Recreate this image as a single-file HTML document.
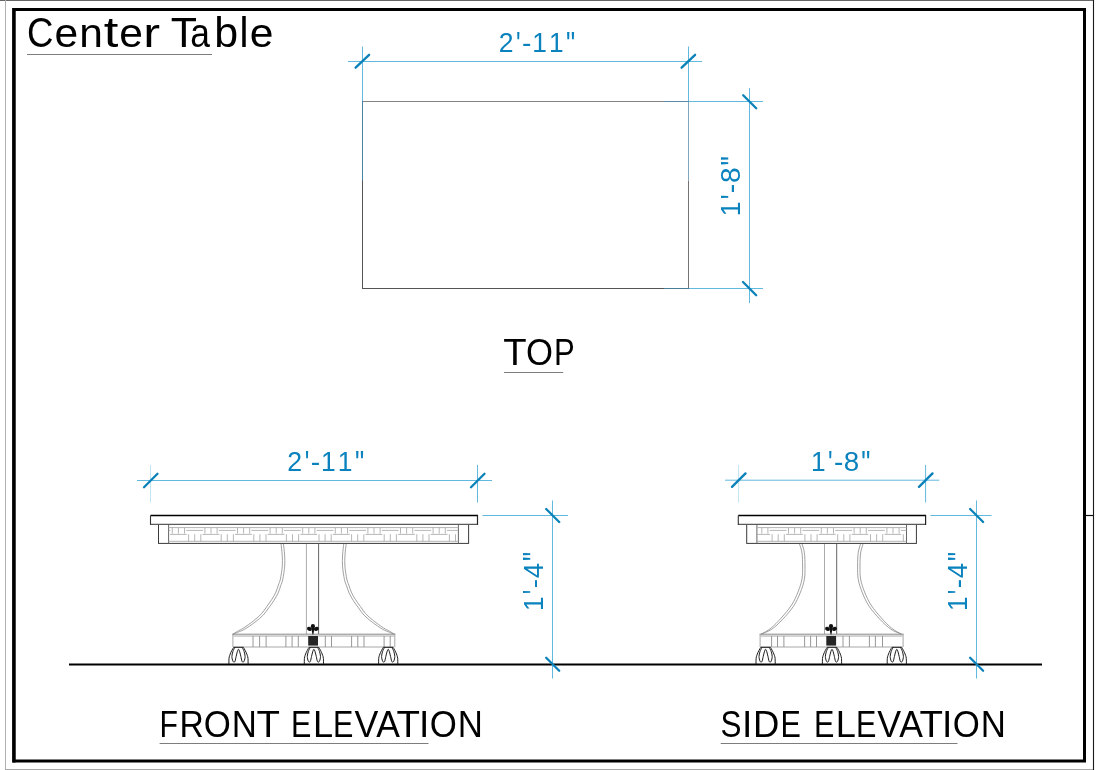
<!DOCTYPE html>
<html><head><meta charset="utf-8"><title>Center Table</title>
<style>
html,body{margin:0;padding:0;background:#fff;width:1100px;height:770px;overflow:hidden}
svg{display:block;will-change:transform}
text{font-family:"Liberation Sans",sans-serif}
.dl{stroke:#62b9df;stroke-width:1;fill:none}
.tk{stroke:#0a82b9;stroke-width:2.3;stroke-linecap:round}
.dt{fill:#0a82bd}
.lb{fill:#000}
.tt{fill:#000}
.ul{stroke:#7d7d7d;stroke-width:1}
.k{stroke:#111;fill:none}
.g{stroke:#999;fill:none;stroke-width:.8}
.p{stroke:#a4a4a4;stroke-width:.8}
.pl{stroke:#aaa;stroke-width:1}
.pd{stroke:#666;stroke-width:1}
.bl{stroke:#888;stroke-width:1}
.bl2{stroke:#9e9e9e;stroke-width:.9}
.bv{stroke:#8c8c8c;stroke-width:.9}
.ft{stroke:#111;stroke-width:.95;fill:none}
.cv{stroke:#8a8a8a;stroke-width:.8;fill:none}
.ap{fill:#fff;stroke:#3a3a3a;stroke-width:1}
.pn{stroke:#666;stroke-width:1}
.pi{stroke:#aaa;stroke-width:.9}
.tp{fill:#fff;stroke:#111;stroke-width:1.2}
</style></head>
<body>
<svg width="1100" height="770" viewBox="0 0 1100 770">
<rect width="1100" height="770" fill="#fff"/>
<!-- outer thin frame -->
<line x1="0" y1="0.5" x2="1094" y2="0.5" stroke="#666" stroke-width="1"/>
<line x1="5.5" y1="0" x2="5.5" y2="770" stroke="#b0b0b0" stroke-width="1"/>
<line x1="5" y1="769.5" x2="1094" y2="769.5" stroke="#a8a8a8" stroke-width="1"/>
<line x1="1093.5" y1="0" x2="1093.5" y2="770" stroke="#1a1a1a" stroke-width="1.1"/>
<line x1="1085" y1="515.5" x2="1093.5" y2="515.5" stroke="#111" stroke-width="1.2"/>
<!-- thick frame -->
<path d="M13.9,9.5 H1084.5 V761 H13.9 Z" fill="none" stroke="#000" stroke-width="3"/>
<line x1="13.9" y1="8" x2="13.9" y2="762.5" stroke="#000" stroke-width="3.3"/>
<!-- title -->
<line class="ul" x1="27" y1="54.5" x2="212" y2="54.5"/>

<!-- ===== TOP VIEW ===== -->
<line x1="362.5" y1="101" x2="362.5" y2="289" stroke="#555" stroke-width="1"/>
<line x1="362" y1="288.5" x2="664" y2="288.5" stroke="#555" stroke-width="1"/>
<line x1="688.5" y1="180.5" x2="688.5" y2="289" stroke="#747474" stroke-width="1"/>
<line x1="362" y1="101.5" x2="664" y2="101.5" stroke="#848484" stroke-width="1"/>
<line x1="362.5" y1="101" x2="362.5" y2="180.5" stroke="#4a82a6" stroke-width="1"/>
<line x1="688.5" y1="101" x2="688.5" y2="180.5" stroke="#7fa7bd" stroke-width="1"/>
<line x1="664" y1="101.5" x2="689" y2="101.5" stroke="#5d8ca8" stroke-width="1"/>
<line x1="664" y1="288.5" x2="689" y2="288.5" stroke="#4a7e98" stroke-width="1"/>
<line class="dl" x1="348" y1="61.5" x2="702" y2="61.5"/>
<line class="dl" x1="362.5" y1="46.5" x2="362.5" y2="101"/>
<line class="dl" x1="688.5" y1="46.5" x2="688.5" y2="101"/>
<line class="tk" x1="355.6" y1="67.7" x2="369.1" y2="54.8"/>
<line class="tk" x1="681.6" y1="67.7" x2="695.1" y2="54.8"/>

<line class="dl" x1="749.5" y1="88" x2="749.5" y2="303"/>
<line class="dl" x1="689" y1="101.5" x2="763" y2="101.5"/>
<line class="dl" x1="689" y1="288.5" x2="763" y2="288.5"/>
<line class="tk" x1="743.2" y1="95.2" x2="756.2" y2="108.2"/>
<line class="tk" x1="743" y1="282" x2="756.2" y2="295.2"/>

<line class="ul" x1="504" y1="372.5" x2="563.2" y2="372.5"/>

<!-- floor -->
<line x1="69" y1="664.5" x2="1042" y2="664.5" stroke="#000" stroke-width="1.8"/>

<!-- ===== FRONT ELEVATION ===== -->
<line class="dl" x1="137" y1="480.5" x2="492" y2="480.5"/>
<line class="dl" x1="150.5" y1="465" x2="150.5" y2="502.5" style="stroke:#c2e4f3"/>
<line class="dl" x1="477.5" y1="465" x2="477.5" y2="502.5"/>
<line class="tk" x1="144" y1="487.2" x2="157.5" y2="473.7"/>
<line class="tk" x1="471" y1="487.2" x2="484.5" y2="473.7"/>

<line class="dl" x1="552.5" y1="500.5" x2="552.5" y2="678.5"/>
<line class="dl" x1="482.5" y1="515.5" x2="568" y2="515.5"/>
<line class="tk" x1="546.2" y1="509" x2="559.2" y2="522"/>
<line class="tk" x1="546.2" y1="657.8" x2="559.2" y2="670.8"/>

<g id="front">
<path class="cv" d="M281,543.6 C281.2,545.5 281.98,551.27 282.2,555 C282.42,558.73 282.6,562 282.3,566 C282,570 281.05,575.83 280.4,579 C279.75,582.17 279.15,582.82 278.4,585 C277.65,587.18 276.98,589.72 275.9,592.1 C274.82,594.48 273.4,596.92 271.9,599.3 C270.4,601.68 268.62,604.02 266.9,606.4 C265.18,608.78 263.8,611.22 261.6,613.6 C259.4,615.98 256.68,618.32 253.7,620.7 C250.72,623.08 246.43,626.12 243.7,627.9 C240.97,629.68 239.15,630.33 237.3,631.4 C235.45,632.47 233.38,633.82 232.6,634.3"/>
<path class="cv" d="M283.39,543.35 C283.59,545.27 284.38,551.06 284.6,554.86 C284.81,558.67 285,562.08 284.69,566.18 C284.39,570.28 283.42,576.22 282.75,579.48 C282.08,582.75 281.45,583.51 280.67,585.78 C279.89,588.05 279.2,590.62 278.07,593.09 C276.95,595.55 275.45,598.12 273.9,600.56 C272.35,603 270.55,605.33 268.77,607.75 C266.99,610.17 265.52,612.67 263.21,615.08 C260.9,617.5 258.04,619.88 254.93,622.24 C251.83,624.6 247.43,627.57 244.57,629.24 C241.71,630.9 239.78,631.4 237.79,632.25 C235.79,633.09 233.46,633.96 232.6,634.3"/>
<path class="cv" d="M346.2,543.6 C346,545.5 345.22,551.27 345,555 C344.78,558.73 344.6,562 344.9,566 C345.2,570 346.15,575.83 346.8,579 C347.45,582.17 348.05,582.82 348.8,585 C349.55,587.18 350.22,589.72 351.3,592.1 C352.38,594.48 353.8,596.92 355.3,599.3 C356.8,601.68 358.58,604.02 360.3,606.4 C362.02,608.78 363.4,611.22 365.6,613.6 C367.8,615.98 370.52,618.32 373.5,620.7 C376.48,623.08 380.77,626.12 383.5,627.9 C386.23,629.68 388.05,630.33 389.9,631.4 C391.75,632.47 393.82,633.82 394.6,634.3"/>
<path class="cv" d="M343.81,543.35 C343.61,545.27 342.82,551.06 342.6,554.86 C342.39,558.67 342.2,562.08 342.51,566.18 C342.81,570.28 343.78,576.22 344.45,579.48 C345.12,582.75 345.75,583.51 346.53,585.78 C347.31,588.05 348,590.62 349.13,593.09 C350.25,595.55 351.75,598.12 353.3,600.56 C354.85,603 356.65,605.33 358.43,607.75 C360.21,610.17 361.68,612.67 363.99,615.08 C366.3,617.5 369.16,619.88 372.27,622.24 C375.37,624.6 379.77,627.57 382.63,629.24 C385.49,630.9 387.42,631.4 389.41,632.25 C391.41,633.09 393.74,633.96 394.6,634.3"/>
<line class="pl" x1="306.4" y1="543.8" x2="306.4" y2="634" />
<line class="pd" x1="318.6" y1="543.8" x2="318.6" y2="634" />
<line class="bl" x1="232.4" y1="634.2" x2="395.3" y2="634.2" />
<line class="bl2" x1="233.4" y1="636" x2="394.3" y2="636" />
<line class="bl2" x1="233.4" y1="647" x2="394.3" y2="647" />
<line class="bl2" x1="232.9" y1="634.2" x2="232.9" y2="647" />
<line class="bl2" x1="394.8" y1="634.2" x2="394.8" y2="647" />
<line class="bv" x1="253" y1="636" x2="253" y2="647" />
<line class="bv" x1="259.6" y1="636" x2="259.6" y2="647" />
<line class="bv" x1="266.1" y1="636" x2="266.1" y2="647" />
<line class="bv" x1="285.9" y1="636" x2="285.9" y2="647" />
<line class="bv" x1="292.1" y1="636" x2="292.1" y2="647" />
<line class="bv" x1="298.3" y1="636" x2="298.3" y2="647" />
<line class="bv" x1="325.3" y1="636" x2="325.3" y2="647" />
<line class="bv" x1="331.5" y1="636" x2="331.5" y2="647" />
<line class="bv" x1="351.6" y1="636" x2="351.6" y2="647" />
<line class="bv" x1="357.8" y1="636" x2="357.8" y2="647" />
<line class="bv" x1="364" y1="636" x2="364" y2="647" />
<line class="bv" x1="384.1" y1="636" x2="384.1" y2="647" />
<line class="bv" x1="390.2" y1="636" x2="390.2" y2="647" />
<path class="ft" d="M228.9,664.5 C228.92,663.5 228.87,660.02 229,658.5 C229.13,656.98 229.4,656.38 229.7,655.4 C230,654.42 230.43,653.43 230.8,652.6 C231.17,651.77 231.55,651.08 231.9,650.4 C232.25,649.72 232.6,649.02 232.9,648.5 C233.2,647.98 233.57,647.5 233.7,647.3 L243.3,647.3 L243.3,647.3 C243.43,647.5 243.8,647.98 244.1,648.5 C244.4,649.02 244.75,649.72 245.1,650.4 C245.45,651.08 245.83,651.77 246.2,652.6 C246.57,653.43 247,654.42 247.3,655.4 C247.6,656.38 247.87,656.98 248,658.5 C248.13,660.02 248.08,663.5 248.1,664.5"/>
<path class="ft" d="M234.7,647.6 C234.4,648.25 233.37,650.02 232.9,651.5 C232.43,652.98 231.92,654.93 231.9,656.5 C231.88,658.07 232.45,659.97 232.8,660.9 C233.15,661.83 233.62,662.08 234,662.1 C234.38,662.12 234.75,661.92 235.1,661 C235.45,660.08 235.73,658.13 236.1,656.6 C236.47,655.07 236.9,653.02 237.3,651.8 C237.7,650.58 238.1,649.3 238.5,649.3 C238.9,649.3 239.3,650.58 239.7,651.8 C240.1,653.02 240.53,655.07 240.9,656.6 C241.27,658.13 241.55,660.08 241.9,661 C242.25,661.92 242.62,662.12 243,662.1 C243.38,662.08 243.85,661.83 244.2,660.9 C244.55,659.97 245.12,658.07 245.1,656.5 C245.08,654.93 244.57,652.98 244.1,651.5 C243.63,650.02 242.6,648.25 242.3,647.6"/>
<path class="ft" d="M304.3,664.5 C304.32,663.5 304.27,660.02 304.4,658.5 C304.53,656.98 304.8,656.38 305.1,655.4 C305.4,654.42 305.83,653.43 306.2,652.6 C306.57,651.77 306.95,651.08 307.3,650.4 C307.65,649.72 308,649.02 308.3,648.5 C308.6,647.98 308.97,647.5 309.1,647.3 L318.7,647.3 L318.7,647.3 C318.83,647.5 319.2,647.98 319.5,648.5 C319.8,649.02 320.15,649.72 320.5,650.4 C320.85,651.08 321.23,651.77 321.6,652.6 C321.97,653.43 322.4,654.42 322.7,655.4 C323,656.38 323.27,656.98 323.4,658.5 C323.53,660.02 323.48,663.5 323.5,664.5"/>
<path class="ft" d="M310.1,647.6 C309.8,648.25 308.77,650.02 308.3,651.5 C307.83,652.98 307.32,654.93 307.3,656.5 C307.28,658.07 307.85,659.97 308.2,660.9 C308.55,661.83 309.02,662.08 309.4,662.1 C309.78,662.12 310.15,661.92 310.5,661 C310.85,660.08 311.13,658.13 311.5,656.6 C311.87,655.07 312.3,653.02 312.7,651.8 C313.1,650.58 313.5,649.3 313.9,649.3 C314.3,649.3 314.7,650.58 315.1,651.8 C315.5,653.02 315.93,655.07 316.3,656.6 C316.67,658.13 316.95,660.08 317.3,661 C317.65,661.92 318.02,662.12 318.4,662.1 C318.78,662.08 319.25,661.83 319.6,660.9 C319.95,659.97 320.52,658.07 320.5,656.5 C320.48,654.93 319.97,652.98 319.5,651.5 C319.03,650.02 318,648.25 317.7,647.6"/>
<path class="ft" d="M378.6,664.5 C378.62,663.5 378.57,660.02 378.7,658.5 C378.83,656.98 379.1,656.38 379.4,655.4 C379.7,654.42 380.13,653.43 380.5,652.6 C380.87,651.77 381.25,651.08 381.6,650.4 C381.95,649.72 382.3,649.02 382.6,648.5 C382.9,647.98 383.27,647.5 383.4,647.3 L393,647.3 L393,647.3 C393.13,647.5 393.5,647.98 393.8,648.5 C394.1,649.02 394.45,649.72 394.8,650.4 C395.15,651.08 395.53,651.77 395.9,652.6 C396.27,653.43 396.7,654.42 397,655.4 C397.3,656.38 397.57,656.98 397.7,658.5 C397.83,660.02 397.78,663.5 397.8,664.5"/>
<path class="ft" d="M384.4,647.6 C384.1,648.25 383.07,650.02 382.6,651.5 C382.13,652.98 381.62,654.93 381.6,656.5 C381.58,658.07 382.15,659.97 382.5,660.9 C382.85,661.83 383.32,662.08 383.7,662.1 C384.08,662.12 384.45,661.92 384.8,661 C385.15,660.08 385.43,658.13 385.8,656.6 C386.17,655.07 386.6,653.02 387,651.8 C387.4,650.58 387.8,649.3 388.2,649.3 C388.6,649.3 389,650.58 389.4,651.8 C389.8,653.02 390.23,655.07 390.6,656.6 C390.97,658.13 391.25,660.08 391.6,661 C391.95,661.92 392.32,662.12 392.7,662.1 C393.08,662.08 393.55,661.83 393.9,660.9 C394.25,659.97 394.82,658.07 394.8,656.5 C394.78,654.93 394.27,652.98 393.8,651.5 C393.33,650.02 392.3,648.25 392,647.6"/>
<circle cx="312.9" cy="626.2" r="2.1" fill="#111"/>
<ellipse cx="309.4" cy="628.9" rx="2.5" ry="2.0" fill="#111" transform="rotate(20 309.4 628.9)"/>
<ellipse cx="316.4" cy="628.9" rx="2.5" ry="2.0" fill="#111" transform="rotate(-20 316.4 628.9)"/>
<path d="M311.1,627.5 L314.7,627.5 L313.3,634.4 L312.5,634.4 Z" fill="#111"/>
<rect x="308.2" y="636" width="9.8" height="9.6" fill="#262626"/>
<rect x="158.5" y="524.4" width="310.1" height="19" class="ap"/>
<line class="pn" x1="168.6" y1="524.4" x2="168.6" y2="543.4" />
<line class="pn" x1="458.4" y1="524.4" x2="458.4" y2="543.4" />
<line class="pi" x1="168.6" y1="527.6" x2="458.4" y2="527.6" />
<line class="pi" x1="168.6" y1="541.3" x2="458.4" y2="541.3" />
<line class="p" x1="168.6" y1="530.4" x2="170.4" y2="530.4" />
<line class="p" x1="169.9" y1="534.4" x2="186.7" y2="534.4" />
<line class="p" x1="172.3" y1="527.6" x2="172.3" y2="533.6" />
<line class="p" x1="178.4" y1="527.6" x2="178.4" y2="533.6" />
<line class="p" x1="184.5" y1="527.6" x2="184.5" y2="533.6" />
<line class="p" x1="186.2" y1="530.4" x2="203" y2="530.4" />
<line class="p" x1="188.6" y1="534.2" x2="188.6" y2="541.3" />
<line class="p" x1="194.7" y1="534.2" x2="194.7" y2="541.3" />
<line class="p" x1="200.8" y1="534.2" x2="200.8" y2="541.3" />
<line class="p" x1="202.5" y1="534.4" x2="219.3" y2="534.4" />
<line class="p" x1="204.9" y1="527.6" x2="204.9" y2="533.6" />
<line class="p" x1="211" y1="527.6" x2="211" y2="533.6" />
<line class="p" x1="217.1" y1="527.6" x2="217.1" y2="533.6" />
<line class="p" x1="218.8" y1="530.4" x2="235.6" y2="530.4" />
<line class="p" x1="221.2" y1="534.2" x2="221.2" y2="541.3" />
<line class="p" x1="227.3" y1="534.2" x2="227.3" y2="541.3" />
<line class="p" x1="233.4" y1="534.2" x2="233.4" y2="541.3" />
<line class="p" x1="235.1" y1="534.4" x2="251.9" y2="534.4" />
<line class="p" x1="237.5" y1="527.6" x2="237.5" y2="533.6" />
<line class="p" x1="243.6" y1="527.6" x2="243.6" y2="533.6" />
<line class="p" x1="249.7" y1="527.6" x2="249.7" y2="533.6" />
<line class="p" x1="251.4" y1="530.4" x2="268.2" y2="530.4" />
<line class="p" x1="253.8" y1="534.2" x2="253.8" y2="541.3" />
<line class="p" x1="259.9" y1="534.2" x2="259.9" y2="541.3" />
<line class="p" x1="266" y1="534.2" x2="266" y2="541.3" />
<line class="p" x1="267.7" y1="534.4" x2="284.5" y2="534.4" />
<line class="p" x1="270.1" y1="527.6" x2="270.1" y2="533.6" />
<line class="p" x1="276.2" y1="527.6" x2="276.2" y2="533.6" />
<line class="p" x1="282.3" y1="527.6" x2="282.3" y2="533.6" />
<line class="p" x1="284" y1="530.4" x2="300.8" y2="530.4" />
<line class="p" x1="286.4" y1="534.2" x2="286.4" y2="541.3" />
<line class="p" x1="292.5" y1="534.2" x2="292.5" y2="541.3" />
<line class="p" x1="298.6" y1="534.2" x2="298.6" y2="541.3" />
<line class="p" x1="300.3" y1="534.4" x2="317.1" y2="534.4" />
<line class="p" x1="302.7" y1="527.6" x2="302.7" y2="533.6" />
<line class="p" x1="308.8" y1="527.6" x2="308.8" y2="533.6" />
<line class="p" x1="314.9" y1="527.6" x2="314.9" y2="533.6" />
<line class="p" x1="316.6" y1="530.4" x2="333.4" y2="530.4" />
<line class="p" x1="319" y1="534.2" x2="319" y2="541.3" />
<line class="p" x1="325.1" y1="534.2" x2="325.1" y2="541.3" />
<line class="p" x1="331.2" y1="534.2" x2="331.2" y2="541.3" />
<line class="p" x1="332.9" y1="534.4" x2="349.7" y2="534.4" />
<line class="p" x1="335.3" y1="527.6" x2="335.3" y2="533.6" />
<line class="p" x1="341.4" y1="527.6" x2="341.4" y2="533.6" />
<line class="p" x1="347.5" y1="527.6" x2="347.5" y2="533.6" />
<line class="p" x1="349.2" y1="530.4" x2="366" y2="530.4" />
<line class="p" x1="351.6" y1="534.2" x2="351.6" y2="541.3" />
<line class="p" x1="357.7" y1="534.2" x2="357.7" y2="541.3" />
<line class="p" x1="363.8" y1="534.2" x2="363.8" y2="541.3" />
<line class="p" x1="365.5" y1="534.4" x2="382.3" y2="534.4" />
<line class="p" x1="367.9" y1="527.6" x2="367.9" y2="533.6" />
<line class="p" x1="374" y1="527.6" x2="374" y2="533.6" />
<line class="p" x1="380.1" y1="527.6" x2="380.1" y2="533.6" />
<line class="p" x1="381.8" y1="530.4" x2="398.6" y2="530.4" />
<line class="p" x1="384.2" y1="534.2" x2="384.2" y2="541.3" />
<line class="p" x1="390.3" y1="534.2" x2="390.3" y2="541.3" />
<line class="p" x1="396.4" y1="534.2" x2="396.4" y2="541.3" />
<line class="p" x1="398.1" y1="534.4" x2="414.9" y2="534.4" />
<line class="p" x1="400.5" y1="527.6" x2="400.5" y2="533.6" />
<line class="p" x1="406.6" y1="527.6" x2="406.6" y2="533.6" />
<line class="p" x1="412.7" y1="527.6" x2="412.7" y2="533.6" />
<line class="p" x1="414.4" y1="530.4" x2="431.2" y2="530.4" />
<line class="p" x1="416.8" y1="534.2" x2="416.8" y2="541.3" />
<line class="p" x1="422.9" y1="534.2" x2="422.9" y2="541.3" />
<line class="p" x1="429" y1="534.2" x2="429" y2="541.3" />
<line class="p" x1="430.7" y1="534.4" x2="447.5" y2="534.4" />
<line class="p" x1="433.1" y1="527.6" x2="433.1" y2="533.6" />
<line class="p" x1="439.2" y1="527.6" x2="439.2" y2="533.6" />
<line class="p" x1="445.3" y1="527.6" x2="445.3" y2="533.6" />
<line class="p" x1="447" y1="530.4" x2="458.4" y2="530.4" />
<line class="p" x1="449.4" y1="534.2" x2="449.4" y2="541.3" />
<line class="p" x1="455.5" y1="534.2" x2="455.5" y2="541.3" />
<rect x="150.5" y="515.6" width="327" height="8.8" fill="#fff"/>
<line x1="150.5" y1="515.5" x2="478" y2="515.5" stroke="#000" stroke-width="1.35"/>
<line x1="150.5" y1="524.4" x2="477.5" y2="524.4" stroke="#5a5a5a" stroke-width="1.1"/>
<line x1="150.5" y1="515.5" x2="150.5" y2="524.9" stroke="#333" stroke-width="1.1"/>
<line x1="477.5" y1="515.5" x2="477.5" y2="524.9" stroke="#222" stroke-width="1.2"/>
</g>

<line class="ul" x1="159.6" y1="743.5" x2="428.5" y2="743.5"/>

<!-- ===== SIDE ELEVATION ===== -->
<line class="dl" x1="725" y1="480.2" x2="939.3" y2="480.2"/>
<line class="dl" x1="738.6" y1="465" x2="738.6" y2="502.5" style="stroke:#c2e4f3"/>
<line class="dl" x1="925.6" y1="465" x2="925.6" y2="502.5"/>
<line class="tk" x1="732" y1="486.9" x2="745.5" y2="473.4"/>
<line class="tk" x1="919" y1="486.9" x2="932.5" y2="473.4"/>

<line class="dl" x1="976.5" y1="500.5" x2="976.5" y2="678.5"/>
<line class="dl" x1="930.4" y1="515.5" x2="991.5" y2="515.5"/>
<line class="tk" x1="970.1" y1="509" x2="983.1" y2="522"/>
<line class="tk" x1="970.1" y1="657.8" x2="983.1" y2="670.8"/>

<g id="side">
<path class="cv" d="M799.4,543.6 C799.83,545.17 801.47,549.27 802,553 C802.53,556.73 802.6,561.67 802.6,566 C802.6,570.33 802.77,574.67 802,579 C801.23,583.33 799.73,587.67 798,592 C796.27,596.33 794.4,600.67 791.6,605 C788.8,609.33 784.67,614.12 781.2,618 C777.73,621.88 774.17,625.6 770.8,628.3 C767.43,631 762.63,633.22 761,634.2"/>
<path class="cv" d="M801.71,542.96 C802.16,544.58 803.83,548.82 804.38,552.66 C804.92,556.5 805,561.54 805,566 C805,570.46 805.16,574.94 804.36,579.42 C803.56,583.9 802,588.41 800.19,592.88 C798.38,597.35 796.42,601.82 793.5,606.22 C790.58,610.63 786.32,615.46 782.67,619.31 C779.03,623.17 775.24,626.85 771.63,629.33 C768.02,631.81 762.77,633.39 761,634.2"/>
<path class="cv" d="M863.2,543.6 C862.77,545.17 861.13,549.27 860.6,553 C860.07,556.73 860,561.67 860,566 C860,570.33 859.83,574.67 860.6,579 C861.37,583.33 862.87,587.67 864.6,592 C866.33,596.33 868.2,600.67 871,605 C873.8,609.33 877.93,614.12 881.4,618 C884.87,621.88 888.43,625.6 891.8,628.3 C895.17,631 899.97,633.22 901.6,634.2"/>
<path class="cv" d="M860.89,542.96 C860.44,544.58 858.77,548.82 858.22,552.66 C857.68,556.5 857.6,561.54 857.6,566 C857.6,570.46 857.44,574.94 858.24,579.42 C859.04,583.9 860.6,588.41 862.41,592.88 C864.22,597.35 866.18,601.82 869.1,606.22 C872.02,610.63 876.28,615.46 879.93,619.31 C883.57,623.17 887.36,626.85 890.97,629.33 C894.58,631.81 899.83,633.39 901.6,634.2"/>
<line class="pl" x1="824.5" y1="543.8" x2="824.5" y2="634" />
<line class="pd" x1="836.7" y1="543.8" x2="836.7" y2="634" />
<line class="bl" x1="759.6" y1="634.2" x2="903.6" y2="634.2" />
<line class="bl2" x1="760.6" y1="636" x2="902.6" y2="636" />
<line class="bl2" x1="760.6" y1="647" x2="902.6" y2="647" />
<line class="bl2" x1="760.1" y1="634.2" x2="760.1" y2="647" />
<line class="bl2" x1="903.1" y1="634.2" x2="903.1" y2="647" />
<line class="bv" x1="771.6" y1="636" x2="771.6" y2="647" />
<line class="bv" x1="777.5" y1="636" x2="777.5" y2="647" />
<line class="bv" x1="783.9" y1="636" x2="783.9" y2="647" />
<line class="bv" x1="804.6" y1="636" x2="804.6" y2="647" />
<line class="bv" x1="810.6" y1="636" x2="810.6" y2="647" />
<line class="bv" x1="816.5" y1="636" x2="816.5" y2="647" />
<line class="bv" x1="843" y1="636" x2="843" y2="647" />
<line class="bv" x1="849.4" y1="636" x2="849.4" y2="647" />
<line class="bv" x1="869.4" y1="636" x2="869.4" y2="647" />
<line class="bv" x1="875.4" y1="636" x2="875.4" y2="647" />
<line class="bv" x1="882.5" y1="636" x2="882.5" y2="647" />
<path class="ft" d="M756,664.5 C756.02,663.5 755.97,660.02 756.1,658.5 C756.23,656.98 756.5,656.38 756.8,655.4 C757.1,654.42 757.53,653.43 757.9,652.6 C758.27,651.77 758.65,651.08 759,650.4 C759.35,649.72 759.7,649.02 760,648.5 C760.3,647.98 760.67,647.5 760.8,647.3 L770.4,647.3 L770.4,647.3 C770.53,647.5 770.9,647.98 771.2,648.5 C771.5,649.02 771.85,649.72 772.2,650.4 C772.55,651.08 772.93,651.77 773.3,652.6 C773.67,653.43 774.1,654.42 774.4,655.4 C774.7,656.38 774.97,656.98 775.1,658.5 C775.23,660.02 775.18,663.5 775.2,664.5"/>
<path class="ft" d="M761.8,647.6 C761.5,648.25 760.47,650.02 760,651.5 C759.53,652.98 759.02,654.93 759,656.5 C758.98,658.07 759.55,659.97 759.9,660.9 C760.25,661.83 760.72,662.08 761.1,662.1 C761.48,662.12 761.85,661.92 762.2,661 C762.55,660.08 762.83,658.13 763.2,656.6 C763.57,655.07 764,653.02 764.4,651.8 C764.8,650.58 765.2,649.3 765.6,649.3 C766,649.3 766.4,650.58 766.8,651.8 C767.2,653.02 767.63,655.07 768,656.6 C768.37,658.13 768.65,660.08 769,661 C769.35,661.92 769.72,662.12 770.1,662.1 C770.48,662.08 770.95,661.83 771.3,660.9 C771.65,659.97 772.22,658.07 772.2,656.5 C772.18,654.93 771.67,652.98 771.2,651.5 C770.73,650.02 769.7,648.25 769.4,647.6"/>
<path class="ft" d="M822.4,664.5 C822.42,663.5 822.37,660.02 822.5,658.5 C822.63,656.98 822.9,656.38 823.2,655.4 C823.5,654.42 823.93,653.43 824.3,652.6 C824.67,651.77 825.05,651.08 825.4,650.4 C825.75,649.72 826.1,649.02 826.4,648.5 C826.7,647.98 827.07,647.5 827.2,647.3 L836.8,647.3 L836.8,647.3 C836.93,647.5 837.3,647.98 837.6,648.5 C837.9,649.02 838.25,649.72 838.6,650.4 C838.95,651.08 839.33,651.77 839.7,652.6 C840.07,653.43 840.5,654.42 840.8,655.4 C841.1,656.38 841.37,656.98 841.5,658.5 C841.63,660.02 841.58,663.5 841.6,664.5"/>
<path class="ft" d="M828.2,647.6 C827.9,648.25 826.87,650.02 826.4,651.5 C825.93,652.98 825.42,654.93 825.4,656.5 C825.38,658.07 825.95,659.97 826.3,660.9 C826.65,661.83 827.12,662.08 827.5,662.1 C827.88,662.12 828.25,661.92 828.6,661 C828.95,660.08 829.23,658.13 829.6,656.6 C829.97,655.07 830.4,653.02 830.8,651.8 C831.2,650.58 831.6,649.3 832,649.3 C832.4,649.3 832.8,650.58 833.2,651.8 C833.6,653.02 834.03,655.07 834.4,656.6 C834.77,658.13 835.05,660.08 835.4,661 C835.75,661.92 836.12,662.12 836.5,662.1 C836.88,662.08 837.35,661.83 837.7,660.9 C838.05,659.97 838.62,658.07 838.6,656.5 C838.58,654.93 838.07,652.98 837.6,651.5 C837.13,650.02 836.1,648.25 835.8,647.6"/>
<path class="ft" d="M887.2,664.5 C887.22,663.5 887.17,660.02 887.3,658.5 C887.43,656.98 887.7,656.38 888,655.4 C888.3,654.42 888.73,653.43 889.1,652.6 C889.47,651.77 889.85,651.08 890.2,650.4 C890.55,649.72 890.9,649.02 891.2,648.5 C891.5,647.98 891.87,647.5 892,647.3 L901.6,647.3 L901.6,647.3 C901.73,647.5 902.1,647.98 902.4,648.5 C902.7,649.02 903.05,649.72 903.4,650.4 C903.75,651.08 904.13,651.77 904.5,652.6 C904.87,653.43 905.3,654.42 905.6,655.4 C905.9,656.38 906.17,656.98 906.3,658.5 C906.43,660.02 906.38,663.5 906.4,664.5"/>
<path class="ft" d="M893,647.6 C892.7,648.25 891.67,650.02 891.2,651.5 C890.73,652.98 890.22,654.93 890.2,656.5 C890.18,658.07 890.75,659.97 891.1,660.9 C891.45,661.83 891.92,662.08 892.3,662.1 C892.68,662.12 893.05,661.92 893.4,661 C893.75,660.08 894.03,658.13 894.4,656.6 C894.77,655.07 895.2,653.02 895.6,651.8 C896,650.58 896.4,649.3 896.8,649.3 C897.2,649.3 897.6,650.58 898,651.8 C898.4,653.02 898.83,655.07 899.2,656.6 C899.57,658.13 899.85,660.08 900.2,661 C900.55,661.92 900.92,662.12 901.3,662.1 C901.68,662.08 902.15,661.83 902.5,660.9 C902.85,659.97 903.42,658.07 903.4,656.5 C903.38,654.93 902.87,652.98 902.4,651.5 C901.93,650.02 900.9,648.25 900.6,647.6"/>
<circle cx="831" cy="626.2" r="2.1" fill="#111"/>
<ellipse cx="827.5" cy="628.9" rx="2.5" ry="2.0" fill="#111" transform="rotate(20 827.5 628.9)"/>
<ellipse cx="834.5" cy="628.9" rx="2.5" ry="2.0" fill="#111" transform="rotate(-20 834.5 628.9)"/>
<path d="M829.2,627.5 L832.8,627.5 L831.4,634.4 L830.6,634.4 Z" fill="#111"/>
<rect x="826.3" y="636" width="9.8" height="9.6" fill="#262626"/>
<rect x="746.7" y="524.4" width="169.7" height="19" class="ap"/>
<line class="pn" x1="756.9" y1="524.4" x2="756.9" y2="543.4" />
<line class="pn" x1="906.5" y1="524.4" x2="906.5" y2="543.4" />
<line class="pi" x1="756.9" y1="527.6" x2="906.5" y2="527.6" />
<line class="pi" x1="756.9" y1="541.3" x2="906.5" y2="541.3" />
<line class="p" x1="756.9" y1="534.4" x2="770" y2="534.4" />
<line class="p" x1="761.8" y1="527.6" x2="761.8" y2="533.6" />
<line class="p" x1="767.9" y1="527.6" x2="767.9" y2="533.6" />
<line class="p" x1="769.6" y1="530.4" x2="786.4" y2="530.4" />
<line class="p" x1="772.1" y1="534.2" x2="772.1" y2="541.3" />
<line class="p" x1="778.2" y1="534.2" x2="778.2" y2="541.3" />
<line class="p" x1="784.3" y1="534.2" x2="784.3" y2="541.3" />
<line class="p" x1="786" y1="534.4" x2="802.8" y2="534.4" />
<line class="p" x1="788.5" y1="527.6" x2="788.5" y2="533.6" />
<line class="p" x1="794.6" y1="527.6" x2="794.6" y2="533.6" />
<line class="p" x1="800.7" y1="527.6" x2="800.7" y2="533.6" />
<line class="p" x1="802.4" y1="530.4" x2="819.2" y2="530.4" />
<line class="p" x1="804.9" y1="534.2" x2="804.9" y2="541.3" />
<line class="p" x1="811" y1="534.2" x2="811" y2="541.3" />
<line class="p" x1="817.1" y1="534.2" x2="817.1" y2="541.3" />
<line class="p" x1="818.8" y1="534.4" x2="835.6" y2="534.4" />
<line class="p" x1="821.3" y1="527.6" x2="821.3" y2="533.6" />
<line class="p" x1="827.4" y1="527.6" x2="827.4" y2="533.6" />
<line class="p" x1="833.5" y1="527.6" x2="833.5" y2="533.6" />
<line class="p" x1="835.2" y1="530.4" x2="852" y2="530.4" />
<line class="p" x1="837.7" y1="534.2" x2="837.7" y2="541.3" />
<line class="p" x1="843.8" y1="534.2" x2="843.8" y2="541.3" />
<line class="p" x1="849.9" y1="534.2" x2="849.9" y2="541.3" />
<line class="p" x1="851.6" y1="534.4" x2="868.4" y2="534.4" />
<line class="p" x1="854.1" y1="527.6" x2="854.1" y2="533.6" />
<line class="p" x1="860.2" y1="527.6" x2="860.2" y2="533.6" />
<line class="p" x1="866.3" y1="527.6" x2="866.3" y2="533.6" />
<line class="p" x1="868" y1="530.4" x2="884.8" y2="530.4" />
<line class="p" x1="870.5" y1="534.2" x2="870.5" y2="541.3" />
<line class="p" x1="876.6" y1="534.2" x2="876.6" y2="541.3" />
<line class="p" x1="882.7" y1="534.2" x2="882.7" y2="541.3" />
<line class="p" x1="884.4" y1="534.4" x2="901.2" y2="534.4" />
<line class="p" x1="886.9" y1="527.6" x2="886.9" y2="533.6" />
<line class="p" x1="893" y1="527.6" x2="893" y2="533.6" />
<line class="p" x1="899.1" y1="527.6" x2="899.1" y2="533.6" />
<line class="p" x1="900.8" y1="530.4" x2="906.5" y2="530.4" />
<line class="p" x1="903.3" y1="534.2" x2="903.3" y2="541.3" />
<rect x="738.3" y="515.6" width="187.3" height="8.8" fill="#fff"/>
<line x1="738.3" y1="515.5" x2="926.1" y2="515.5" stroke="#000" stroke-width="1.35"/>
<line x1="738.3" y1="524.4" x2="925.6" y2="524.4" stroke="#5a5a5a" stroke-width="1.1"/>
<line x1="738.3" y1="515.5" x2="738.3" y2="524.9" stroke="#333" stroke-width="1.1"/>
<line x1="925.6" y1="515.5" x2="925.6" y2="524.9" stroke="#222" stroke-width="1.2"/>
</g>

<line class="ul" x1="720.7" y1="743.5" x2="957.5" y2="743.5"/>
<g class="tt" transform="translate(28.9,46.9)"><text transform="matrix(0.876 0 0 1.014 -1.857 0.148)" font-size="41.749">C</text><text transform="matrix(1.019 0 0 0.995 25.648 0.156)" font-size="41.749">e</text><text transform="matrix(1.017 0 0 0.988 50.269 0)" font-size="41.749">n</text><text transform="matrix(1.261 0 0 1.019 74.736 -0.332)" font-size="41.749">t</text><text transform="matrix(1.019 0 0 0.995 90.276 0.156)" font-size="41.749">e</text><text transform="matrix(1.209 0 0 0.988 114.365 0)" font-size="41.749">r</text><text transform="matrix(1.029 0 0 1.006 141.772 0)" font-size="41.749">T</text><text transform="matrix(0.848 0 0 0.995 161.241 0.156)" font-size="41.749">a</text><text transform="matrix(1.027 0 0 1.001 185.331 0.153)" font-size="41.749">b</text><text transform="matrix(0.965 0 0 0.996 210.509 0)" font-size="41.749">l</text><text transform="matrix(1.019 0 0 0.995 220.827 0.156)" font-size="41.749">e</text></g>
<g class="lb" transform="translate(504,365)"><text transform="matrix(1.036 0 0 0.99 -0.861 0)" font-size="36.981">T</text><text transform="matrix(0.939 0 0 0.999 21.892 0.129)" font-size="36.981">O</text><text transform="matrix(0.84 0 0 0.99 50.108 0)" font-size="36.981">P</text></g>
<g class="lb" transform="translate(162.1,736.7)"><text transform="matrix(0.81 0 0 1.002 -2.477 -0)" font-size="37.299">F</text><text transform="matrix(0.903 0 0 1.002 17.49 -0)" font-size="37.299">R</text><text transform="matrix(0.934 0 0 1.01 41.601 0.131)" font-size="37.299">O</text><text transform="matrix(0.933 0 0 1.002 69.59 -0)" font-size="37.299">N</text><text transform="matrix(1.03 0 0 1.002 94.374 -0)" font-size="37.299">T</text><text transform="matrix(0.819 0 0 1.002 128.997 -0)" font-size="37.299">E</text><text transform="matrix(0.972 0 0 1.002 150.784 -0)" font-size="37.299">L</text><text transform="matrix(0.819 0 0 1.002 170.881 -0)" font-size="37.299">E</text><text transform="matrix(0.959 0 0 1.002 192.302 -0)" font-size="37.299">V</text><text transform="matrix(0.952 0 0 1.002 214.223 -0)" font-size="37.299">A</text><text transform="matrix(1.03 0 0 1.002 234.415 -0)" font-size="37.299">T</text><text transform="matrix(0.999 0 0 1.002 256.906 -0)" font-size="37.299">I</text><text transform="matrix(0.934 0 0 1.01 267.616 0.131)" font-size="37.299">O</text><text transform="matrix(0.933 0 0 1.002 295.604 -0)" font-size="37.299">N</text></g>
<g class="lb" transform="translate(722,736.7)"><text transform="matrix(0.843 0 0 1.01 -1.427 0.131)" font-size="37.299">S</text><text transform="matrix(1 0 0 1.002 20.058 -0)" font-size="37.299">I</text><text transform="matrix(0.978 0 0 1.002 30.897 -0)" font-size="37.299">D</text><text transform="matrix(0.819 0 0 1.002 58.518 -0)" font-size="37.299">E</text><text transform="matrix(0.819 0 0 1.002 91.991 -0)" font-size="37.299">E</text><text transform="matrix(0.972 0 0 1.002 113.79 -0)" font-size="37.299">L</text><text transform="matrix(0.819 0 0 1.002 133.898 -0)" font-size="37.299">E</text><text transform="matrix(0.959 0 0 1.002 155.316 -0)" font-size="37.299">V</text><text transform="matrix(0.952 0 0 1.002 177.265 -0)" font-size="37.299">A</text><text transform="matrix(1.031 0 0 1.002 197.468 -0)" font-size="37.299">T</text><text transform="matrix(1 0 0 1.002 219.971 -0)" font-size="37.299">I</text><text transform="matrix(0.934 0 0 1.01 230.672 0.131)" font-size="37.299">O</text><text transform="matrix(0.934 0 0 1.002 258.692 -0)" font-size="37.299">N</text></g>
<g class="dt" transform="translate(500.1,51.9)"><text transform="matrix(0.964 0 0 1.006 -1.336 0)" font-size="27.55">2</text><text transform="matrix(0.877 0 0 1.185 15.996 3.464)" font-size="27.55">'</text><text transform="matrix(1.023 0 0 0.97 21.927 -0.043)" font-size="27.55">-</text><text transform="matrix(0.955 0 0 1.002 32.197 -0)" font-size="27.55">1</text><text transform="matrix(0.955 0 0 1.002 48.835 -0)" font-size="27.55">1</text><text transform="matrix(0.94 0 0 1.185 66.004 3.464)" font-size="27.55">&quot;</text></g>
<g class="dt" transform="translate(740.2,214.3) rotate(-90)"><text transform="matrix(0.963 0 0 1.018 -2.022 0)" font-size="27.55">1</text><text transform="matrix(0.884 0 0 1.204 15.166 3.519)" font-size="27.55">'</text><text transform="matrix(1.032 0 0 0.985 21.148 -0.044)" font-size="27.55">-</text><text transform="matrix(1.02 0 0 1.027 31.199 0.099)" font-size="27.55">8</text><text transform="matrix(0.948 0 0 1.204 48.835 3.519)" font-size="27.55">&quot;</text></g>
<g class="dt" transform="translate(288.6,471)"><text transform="matrix(0.969 0 0 1.006 -1.343 0)" font-size="27.55">2</text><text transform="matrix(0.881 0 0 1.185 16.082 3.464)" font-size="27.55">'</text><text transform="matrix(1.028 0 0 0.97 22.046 -0.043)" font-size="27.55">-</text><text transform="matrix(0.961 0 0 1.002 32.371 -0)" font-size="27.55">1</text><text transform="matrix(0.961 0 0 1.002 49.099 -0)" font-size="27.55">1</text><text transform="matrix(0.945 0 0 1.185 66.36 3.464)" font-size="27.55">&quot;</text></g>
<g class="dt" transform="translate(813,470.6)"><text transform="matrix(0.953 0 0 1.008 -2.001 0)" font-size="27.55">1</text><text transform="matrix(0.875 0 0 1.191 15.006 3.483)" font-size="27.55">'</text><text transform="matrix(1.021 0 0 0.975 20.925 -0.043)" font-size="27.55">-</text><text transform="matrix(1.009 0 0 1.016 30.87 0.098)" font-size="27.55">8</text><text transform="matrix(0.938 0 0 1.191 48.321 3.483)" font-size="27.55">&quot;</text></g>
<g class="dt" transform="translate(543,609.1) rotate(-90)"><text transform="matrix(0.948 0 0 0.992 -1.99 0)" font-size="27.55">1</text><text transform="matrix(0.87 0 0 1.173 14.926 3.428)" font-size="27.55">'</text><text transform="matrix(1.015 0 0 0.959 20.814 -0.043)" font-size="27.55">-</text><text transform="matrix(0.993 0 0 0.992 30.786 0)" font-size="27.55">4</text><text transform="matrix(0.933 0 0 1.173 48.064 3.428)" font-size="27.55">&quot;</text></g>
<g class="dt" transform="translate(967.1,609.1) rotate(-90)"><text transform="matrix(0.948 0 0 1.002 -1.99 -0)" font-size="27.55">1</text><text transform="matrix(0.87 0 0 1.185 14.926 3.464)" font-size="27.55">'</text><text transform="matrix(1.015 0 0 0.97 20.814 -0.043)" font-size="27.55">-</text><text transform="matrix(0.993 0 0 1.002 30.786 -0)" font-size="27.55">4</text><text transform="matrix(0.933 0 0 1.185 48.064 3.464)" font-size="27.55">&quot;</text></g>
</svg>
</body></html>
